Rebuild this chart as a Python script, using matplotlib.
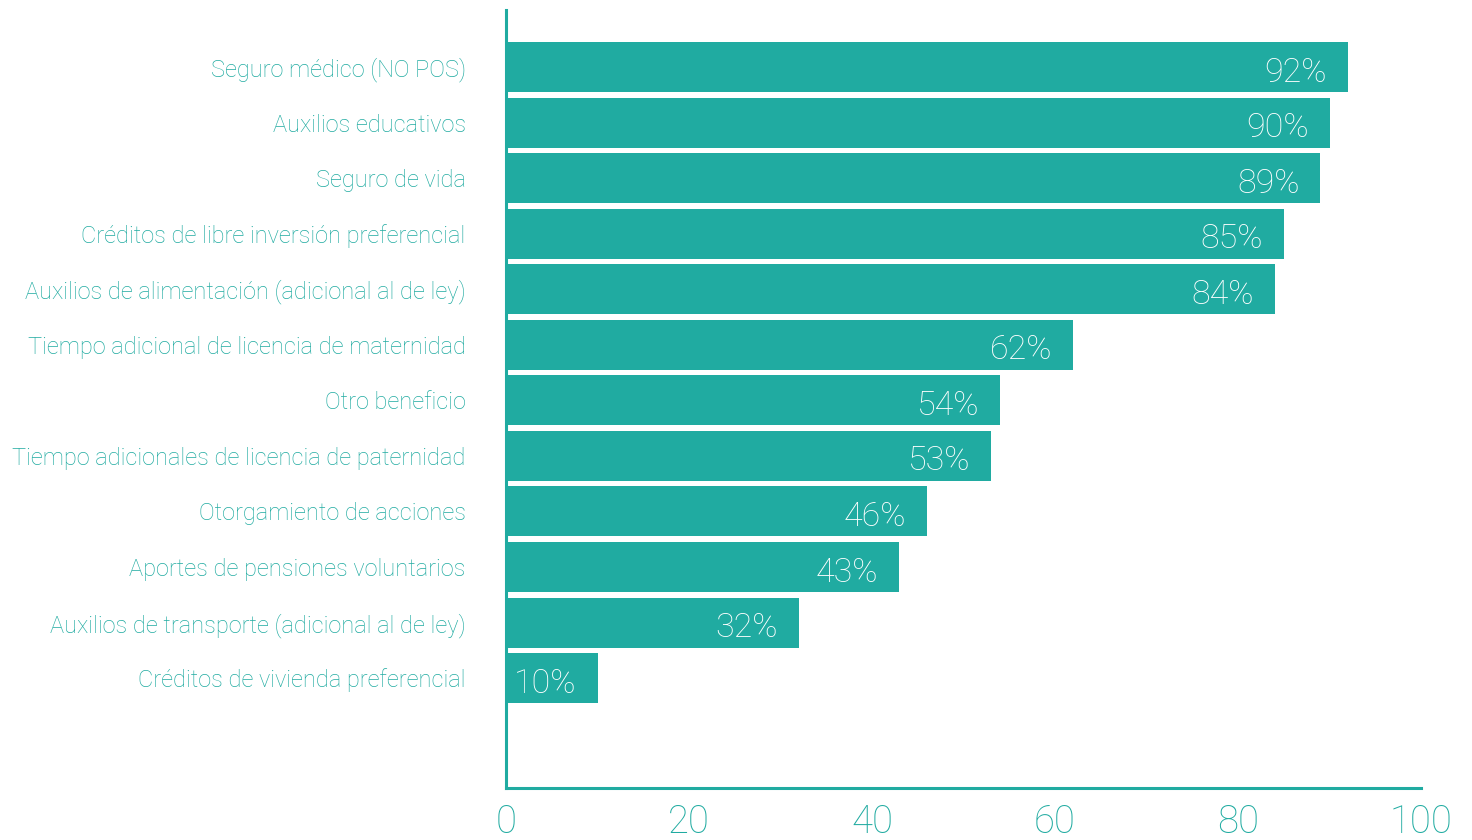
import matplotlib
matplotlib.use("Agg")
import matplotlib.pyplot as plt
from matplotlib import font_manager as fm
from matplotlib.transforms import offset_copy

categories = [
    "Seguro médico (NO POS)",
    "Auxilios educativos",
    "Seguro de vida",
    "Créditos de libre inversión preferencial",
    "Auxilios de alimentación (adicional al de ley)",
    "Tiempo adicional de licencia de maternidad",
    "Otro beneficio",
    "Tiempo adicionales de licencia de paternidad",
    "Otorgamiento de acciones",
    "Aportes de pensiones voluntarios",
    "Auxilios de transporte (adicional al de ley)",
    "Créditos de vivienda preferencial",
]
values = [92, 90, 89, 85, 84, 62, 54, 53, 46, 43, 32, 10]
xticks = [0, 20, 40, 60, 80, 100]

TEAL = "#20ABA1"
names = {f.name for f in fm.fontManager.ttflist}
family = "Roboto" if "Roboto" in names else "DejaVu Sans"
plt.rcParams["font.family"] = [family, "DejaVu Sans"]

W, H = 1472, 840
fig = plt.figure(figsize=(W / 100, H / 100), dpi=100)
ax = fig.add_axes([506 / W, (H - 788) / H, (1421 - 506) / W, (788 - 10) / H])

y = list(range(len(categories)))
ax.barh(y, values, height=0.9, color=TEAL, edgecolor="none")
ax.set_xlim(0, 100)
ax.set_ylim(12.98, -1.03)

for yi, v in zip(y, values):
    tr = offset_copy(ax.transData, fig=fig, x=-15, y=-4, units="points")
    ax.text(v, yi, f"{v}%", transform=tr, ha="right", va="center",
            color="white", fontsize=24.5, fontweight="light")

ax.set_yticks(y)
ax.set_yticklabels(categories, fontsize=17, color=TEAL, fontweight="light")
ax.set_xticks(xticks)
ax.set_xticklabels([str(t) for t in xticks], fontsize=27.5, color=TEAL, fontweight="light")
ax.tick_params(axis="y", length=0, pad=29)
ax.tick_params(axis="x", length=0, pad=11)

for s in ["top", "right"]:
    ax.spines[s].set_visible(False)
for s in ["left", "bottom"]:
    ax.spines[s].set_color(TEAL)
    ax.spines[s].set_linewidth(2.2)

fig.savefig("out.png", dpi=100)
